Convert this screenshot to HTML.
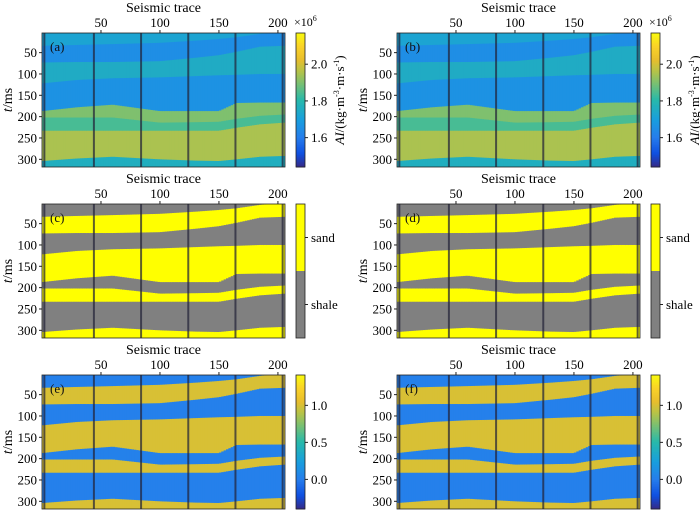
<!DOCTYPE html>
<html><head><meta charset="utf-8">
<style>
body{margin:0;background:#fff;}
svg{display:block;font-family:"Liberation Serif",serif;}
</style></head>
<body>
<svg id="fig" width="700" height="514" viewBox="0 0 700 514" xmlns="http://www.w3.org/2000/svg"></svg>
<script>
// ---- data ----
const controlTraces = [0, 30, 60, 100, 130, 150, 165, 185, 206];
const b0 = [34, 32, 30, 27, 22, 18, 14, 6, 0];
const b1 = [73, 72, 72, 70, 62, 56, 48, 36, 34];
const b2 = [122, 114, 110, 108, 105, 103, 102, 100, 100];
const b3 = [187, 178, 172, 187, 187, 187, 168, 167, 167];
const b4 = [202, 202, 202, 214, 213, 212, 205, 198, 195];
const b5 = [233, 233, 233, 233, 233, 233, 226, 218, 214];
const b6 = [304, 298, 294, 300, 303, 304, 300, 294, 292];
const aiValues = [1.72, 1.65, 1.75, 1.66, 1.9, 1.84, 1.95, 1.76];
const faciesValues = [0, 1, 0, 1, 0, 1, 0, 1];
const probValues = [0.02, 1.0, 0.02, 1.0, 0.03, 1.0, 0.02, 1.0];
const wellTraces = [2, 44, 84, 124, 164, 204];
const xTicks = [50, 100, 150, 200];
const yTicks = [50, 100, 150, 200, 250, 300];
const aiTicks = [1.6, 1.8, 2.0];
const probTicks = [0.0, 0.5, 1.0];
const boundaries = [b0, b1, b2, b3, b4, b5, b6];

const NS = "http://www.w3.org/2000/svg";
const svg = document.getElementById('fig');
function mk(tag, attrs, parent){const e=document.createElementNS(NS,tag);for(const k in attrs)e.setAttribute(k,attrs[k]);(parent||svg).appendChild(e);return e;}

const parulaStops=[[0,[53,42,135]],[0.1,[15,80,225]],[0.22,[38,125,236]],[0.35,[24,158,222]],[0.5,[40,185,170]],[0.62,[120,192,115]],[0.72,[185,195,70]],[0.8,[232,190,45]],[0.9,[250,210,40]],[1,[249,251,14]]];
function parula(f){f=Math.max(0,Math.min(1,f));for(let i=1;i<parulaStops.length;i++){if(f<=parulaStops[i][0]){const a=parulaStops[i-1],b=parulaStops[i];const t=(f-a[0])/(b[0]-a[0]);const c=a[1].map((v,j)=>Math.round(v+(b[1][j]-v)*t));return `rgb(${c[0]},${c[1]},${c[2]})`;}}return 'rgb(249,251,14)';}
function interp(arr,tr){for(let i=1;i<controlTraces.length;i++){if(tr<=controlTraces[i]){const t=(tr-controlTraces[i-1])/(controlTraces[i]-controlTraces[i-1]);return arr[i-1]+(arr[i]-arr[i-1])*t;}}return arr[arr.length-1];}

const T0=4, T1=318, X0=0, X1=206;
function panel(px, py, label, values, colorFn, cb){
  const W=243, H=134;
  const sx=v=>px+(v-X0)/(X1-X0)*W;
  const sy=v=>py+(v-T0)/(T1-T0)*H;
  const g=mk('g',{});
  
  
  const clip='clip'+label;
  const cp=mk('clipPath',{id:clip},g);mk('rect',{x:px,y:py,width:W,height:H},cp);
  const img=mk('g',{'clip-path':`url(#${clip})`},g);
  
  
  for(let tr=X0;tr<X1;tr+=2){
    const c=tr+1;
    let edges=[T0-5];
    boundaries.forEach(b=>edges.push(interp(b,c)));
    edges.push(T1+5);
    for(let l=0;l<values.length;l++){
      const y0=sy(edges[l]),y1=sy(edges[l+1]);
      if(y1<=y0)continue;
      const r=mk('rect',{x:sx(tr).toFixed(2),y:y0.toFixed(2),width:(sx(tr+2)-sx(tr)+0.5).toFixed(2),height:(y1-y0+0.4).toFixed(2),fill:colorFn(values[l])},img);
      
      
    }
  }
  wellTraces.forEach(w=>{const l=mk('line',{x1:sx(w),x2:sx(w),y1:py,y2:py+H,stroke:'rgba(35,35,55,0.72)','stroke-width':2},img);
    });
  mk('rect',{x:px,y:py,width:W,height:H,fill:'none',stroke:'#222','stroke-width':0.8},g);
  const t=mk('text',{x:px+8,y:py+18,'font-size':13,fill:'#111'},g);t.textContent='('+label+')';
  
  xTicks.forEach(v=>{mk('line',{x1:sx(v),x2:sx(v),y1:py,y2:py-3,stroke:'#222'},g);
    const tx=mk('text',{x:sx(v),y:py-6,'font-size':13,'text-anchor':'middle'},g);tx.textContent=v;
    });
  const xt=mk('text',{x:px+W/2,y:py-21,'font-size':14,'text-anchor':'middle'},g);xt.textContent='Seismic trace';
  
  yTicks.forEach(v=>{mk('line',{x1:px,x2:px-3,y1:sy(v),y2:sy(v),stroke:'#222'},g);
    const ty=mk('text',{x:px-5,y:sy(v)+4.5,'font-size':13,'text-anchor':'end'},g);ty.textContent=v;
    });
  const yl=mk('text',{transform:`translate(${px-30},${py+H/2}) rotate(-90)`,'font-size':14,'text-anchor':'middle'},g);
  yl.innerHTML='<tspan font-style="italic">t</tspan>/ms';
  
  const cx=px+W+11, cw=9;
  const cg=mk('g',{},g);
  
  if(cb.type==='cont'){
    const n=80;
    for(let i=0;i<n;i++){mk('rect',{x:cx,y:py+H*i/n,width:cw,height:H/n+0.5,fill:parula(1-(i+0.5)/n)},cg);}
    const cy=v=>py+(cb.max-v)/(cb.max-cb.min)*H;
    cb.ticks.forEach(v=>{mk('line',{x1:cx+cw,x2:cx+cw+3,y1:cy(v),y2:cy(v),stroke:'#222'},cg);
      const tt=mk('text',{x:cx+cw+6,y:cy(v)+4.5,'font-size':13},cg);tt.textContent=v.toFixed(1);
      });
    if(cb.ai){
      const e=mk('text',{x:cx-2,y:py-7,'font-size':12},cg);e.innerHTML='×10<tspan font-size="8" dy="-5">6</tspan>';
      const al=mk('text',{transform:`translate(${cx+48},${py+H/2}) rotate(-90)`,'font-size':13,'text-anchor':'middle'},cg);
      al.innerHTML='<tspan font-style="italic">AI</tspan>/(kg·m<tspan font-size="8" dy="-5">-3</tspan><tspan dy="5">·m·s</tspan><tspan font-size="8" dy="-5">-1</tspan><tspan dy="5">)</tspan>';
      
    }
  } else {
    mk('rect',{x:cx,y:py,width:cw,height:H/2,fill:'#ffff00'},cg);
    mk('rect',{x:cx,y:py+H/2,width:cw,height:H/2,fill:'#808080'},cg);
    [['sand',py+H/4],['shale',py+3*H/4]].forEach(([s,y])=>{mk('line',{x1:cx+cw,x2:cx+cw+3,y1:y,y2:y,stroke:'#222'},cg);
      const tt=mk('text',{x:cx+cw+6,y:y+4.5,'font-size':13},cg);tt.textContent=s;
      });
  }
  mk('rect',{x:cx,y:py,width:cw,height:H,fill:'none',stroke:'#222','stroke-width':0.8},cg);
}
const aiColor=v=>parula((v-1.44)/(2.17-1.44));
const faciesColor=v=>v>0.5?'#ffff00':'#808080';
const probColor=v=>parula((v+0.40)/(1.41+0.40));
const aiCb={type:'cont',min:1.44,max:2.17,ticks:aiTicks,ai:true};
const prCb={type:'cont',min:-0.40,max:1.41,ticks:probTicks};
const fcCb={type:'cat'};
panel(42,33,'a',aiValues,aiColor,aiCb);
panel(397,33,'b',aiValues,aiColor,aiCb);
panel(42,204,'c',faciesValues,faciesColor,fcCb);
panel(397,204,'d',faciesValues,faciesColor,fcCb);
panel(42,375,'e',probValues,probColor,prCb);
panel(397,375,'f',probValues,probColor,prCb);
</script>
</body></html>
